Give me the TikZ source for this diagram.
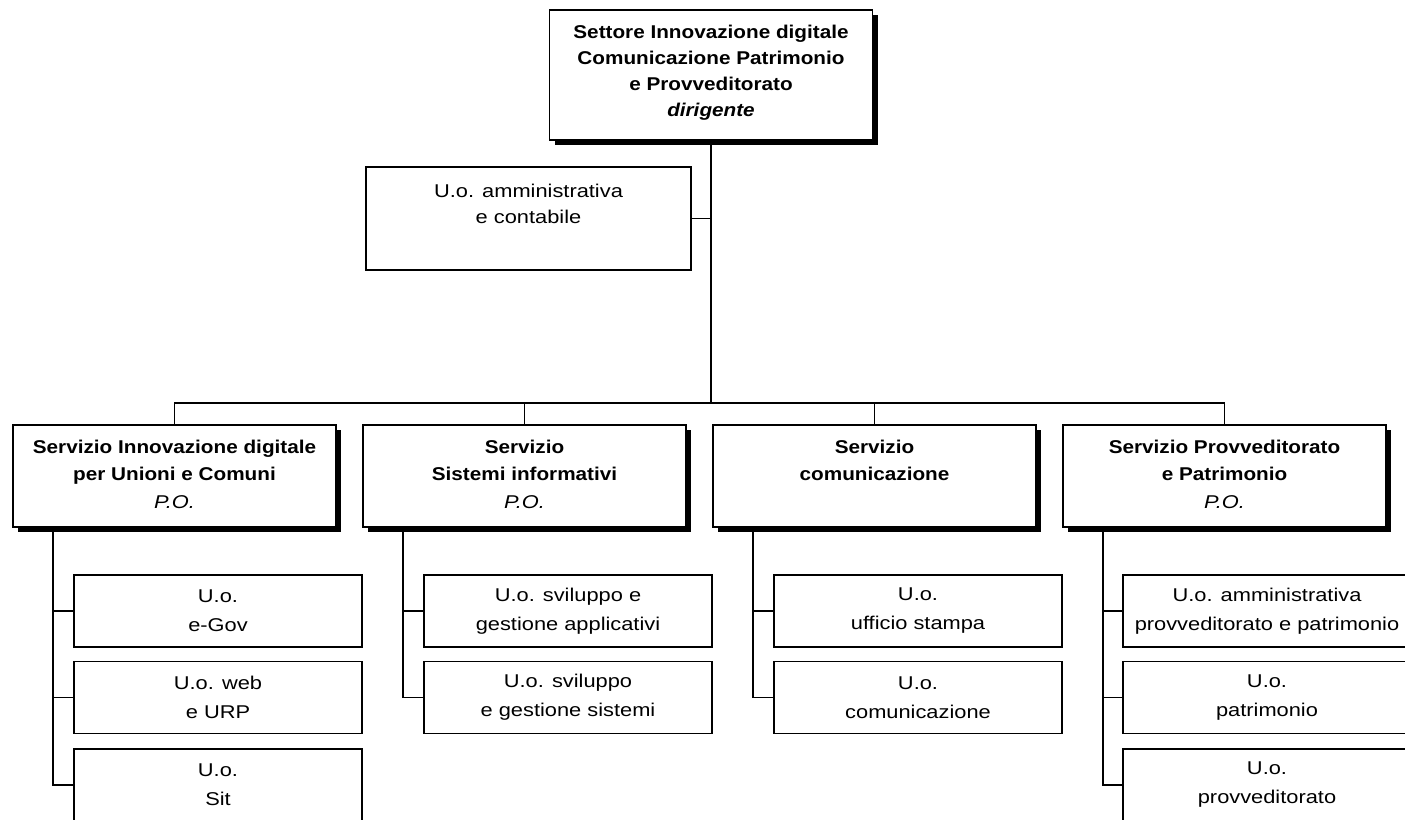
\documentclass[tikz,border=0pt]{standalone}
\usepackage{fontspec}
\setmainfont{Liberation Sans}[FakeStretch=1.18,BoldFeatures={FakeStretch=1.12},BoldItalicFeatures={FakeStretch=1.12}]
\usetikzlibrary{shadows}
\newcommand\tbox[4]{\parbox[c][#2][t]{#1}{\centering\rule{0pt}{#3}#4}}
\tikzset{
  box/.style={draw, line width=1.3pt, inner sep=0pt, outer sep=0pt, fill=white},
  shad/.style={drop shadow={shadow xshift=5pt, shadow yshift=-5pt, fill=black, opacity=1}},
  sub/.style={box, minimum width=288pt, minimum height=72pt, align=center, font=\fontsize{18.5}{29}\selectfont},
  ln/.style={line width=1.3pt}
}
\begin{document}
\begin{tikzpicture}[x=1pt,y=1pt]
\useasboundingbox (0,0) rectangle (1405,-819);
\clip (0,0) rectangle (1405,-819);
\fill[white] (0,0) rectangle (1405,-819);
% top
\node[box,shad,font=\fontsize{18.5}{26}\selectfont] (top) at (711,-75)
  {\tbox{323pt}{130pt}{28pt}{\textbf{Settore Innovazione digitale\\Comunicazione Patrimonio\\e Provveditorato\\\textit{dirigente}}}};
\node[box,font=\fontsize{18.5}{26}\selectfont] (amm) at (528.5,-218.5)
  {\tbox{325pt}{103pt}{30pt}{U.o. amministrativa\\e contabile}};
\coordinate (busc) at (711,-403);
% services
\node[box,shad,font=\fontsize{18.5}{27.5}\selectfont] (s1) at (174.5,-476)
  {\tbox{323pt}{102pt}{28pt}{\textbf{Servizio Innovazione digitale\\per Unioni e Comuni}\\\textit{P.O.}}};
\node[box,shad,font=\fontsize{18.5}{27.5}\selectfont] (s2) at (524.5,-476)
  {\tbox{323pt}{102pt}{28pt}{\textbf{Servizio\\Sistemi informativi}\\\textit{P.O.}}};
\node[box,shad,font=\fontsize{18.5}{27.5}\selectfont] (s3) at (874.5,-476)
  {\tbox{323pt}{102pt}{28pt}{\textbf{Servizio\\comunicazione}}};
\node[box,shad,font=\fontsize{18.5}{27.5}\selectfont] (s4) at (1224.5,-476)
  {\tbox{323pt}{102pt}{28pt}{\textbf{Servizio Provveditorato\\e Patrimonio}\\\textit{P.O.}}};
% sub units
\node[sub] (a1) at (218,-611) {U.o.\\e-Gov};
\node[sub] (a2) at (218,-697.5) {U.o. web\\e URP};
\node[sub] (a3) at (218,-785) {U.o.\\Sit};
\node[sub] (b1) at (568,-611) {U.o. sviluppo e\\gestione applicativi};
\node[sub] (b2) at (568,-697.5) {U.o. sviluppo\\e gestione sistemi};
\node[sub] (c1) at (918,-611) {U.o.\\ufficio stampa};
\node[sub] (c2) at (918,-697.5) {U.o.\\comunicazione};
\node[sub] (d1) at (1267,-611) {U.o. amministrativa\\provveditorato e patrimonio};
\node[sub] (d2) at (1267,-697.5) {U.o.\\patrimonio};
\node[sub] (d3) at (1267,-785) {U.o.\\provveditorato};
% connectors
\draw[ln] (top.south) -- (busc);
\draw[ln] (amm.east) -- (amm.east -| busc);
\draw[ln] (s1.north) -- (s1.north |- busc) -- (s4.north |- busc) -- (s4.north);
\draw[ln] (s2.north) -- (s2.north |- busc);
\draw[ln] (s3.north) -- (s3.north |- busc);
\draw[ln] ([xshift=-21pt]a1.west |- s1.south) -- ([xshift=-21pt]a3.west) -- (a3.west);
\draw[ln] (a1.west) -- ++(-21,0);
\draw[ln] (a2.west) -- ++(-21,0);
\draw[ln] ([xshift=-21pt]b1.west |- s2.south) -- ([xshift=-21pt]b2.west) -- (b2.west);
\draw[ln] (b1.west) -- ++(-21,0);
\draw[ln] ([xshift=-21pt]c1.west |- s3.south) -- ([xshift=-21pt]c2.west) -- (c2.west);
\draw[ln] (c1.west) -- ++(-21,0);
\draw[ln] ([xshift=-20pt]d1.west |- s4.south) -- ([xshift=-20pt]d3.west) -- (d3.west);
\draw[ln] (d1.west) -- ++(-20,0);
\draw[ln] (d2.west) -- ++(-20,0);
\end{tikzpicture}
\end{document}
